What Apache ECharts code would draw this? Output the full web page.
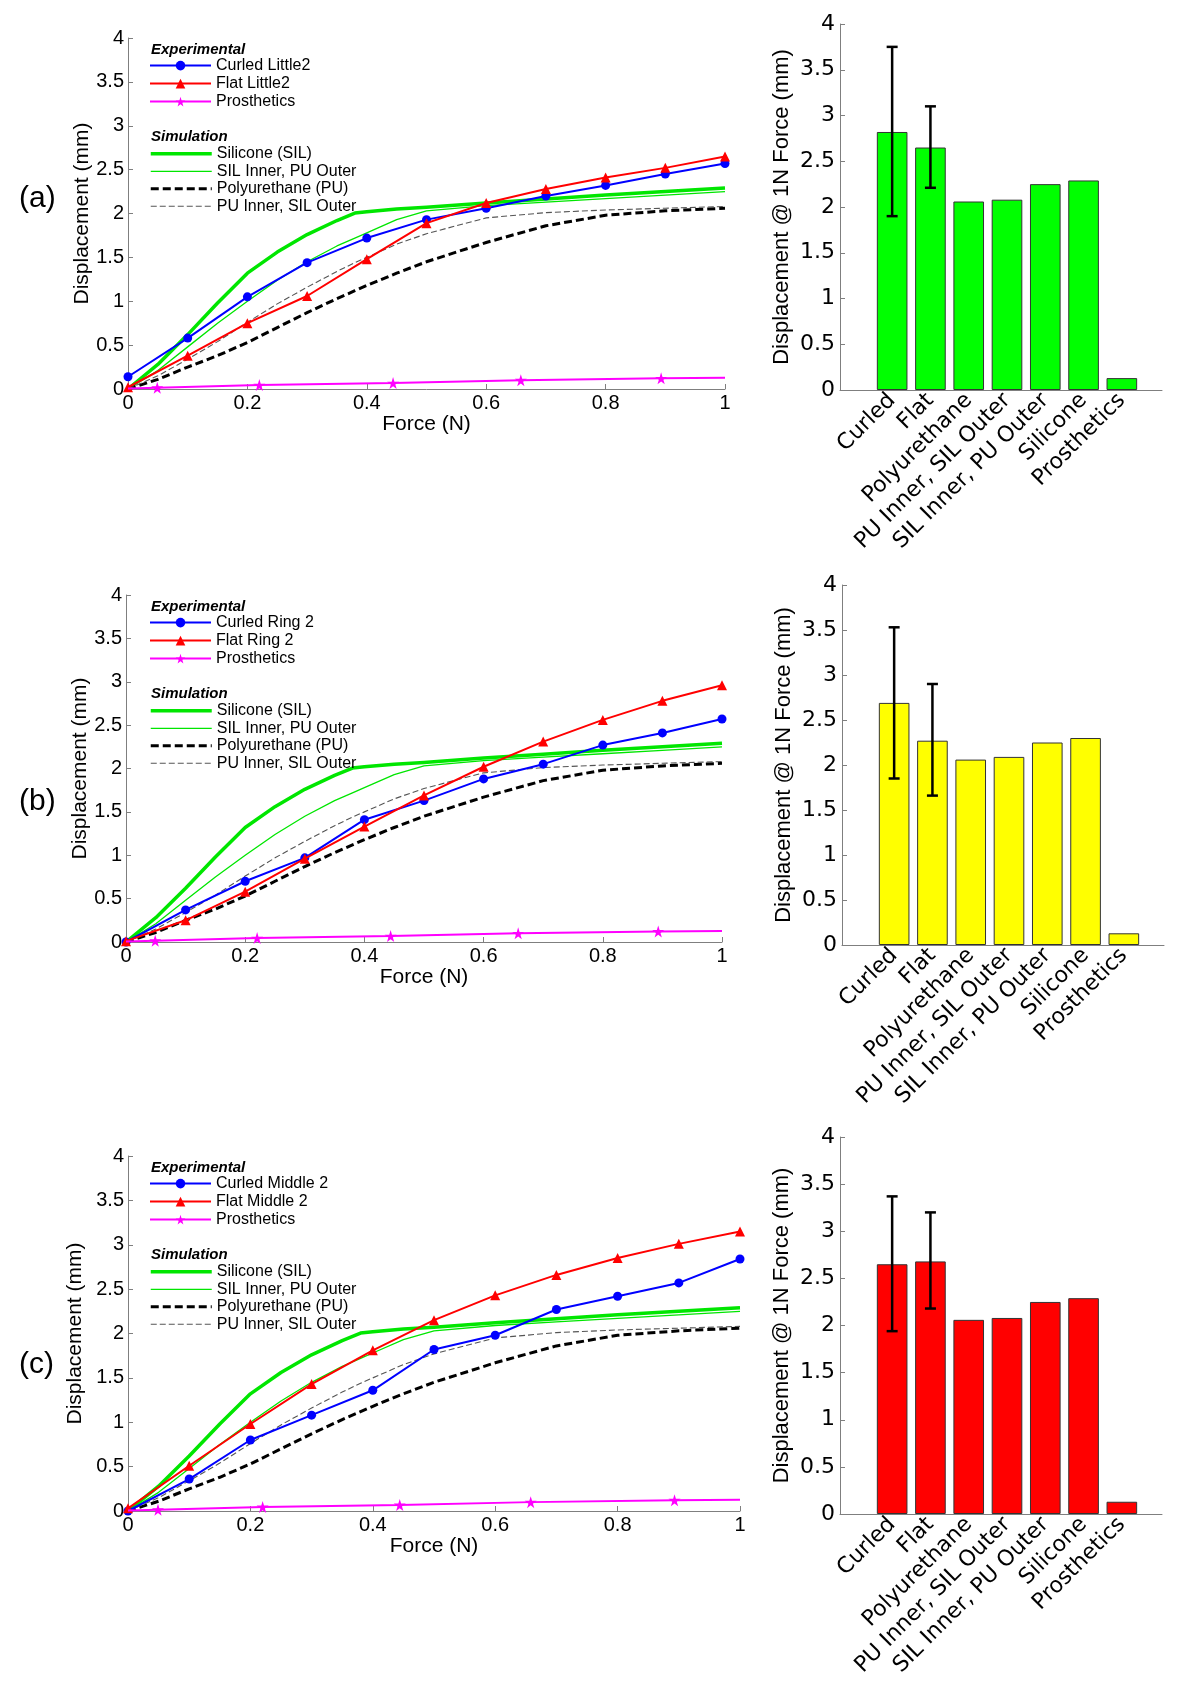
<!DOCTYPE html>
<html><head><meta charset="utf-8">
<script src="https://cdn.jsdelivr.net/npm/echarts@6/dist/echarts.min.js"></script>
<style>html,body{margin:0;padding:0;background:#fff}#c{width:1200px;height:1686px}</style>
</head><body><div id="c"></div>
<script>
// ---------- data ----------
const forceX = [0, 0.1, 0.2, 0.3, 0.4, 0.5, 0.6, 0.7, 0.8, 0.9, 1.0];
const curledLittle2 = [0.14, 0.58, 1.05, 1.44, 1.72, 1.93, 2.06, 2.20, 2.32, 2.45, 2.57];
const flatLittle2   = [0.02, 0.38, 0.75, 1.06, 1.48, 1.89, 2.12, 2.28, 2.41, 2.52, 2.65];
const curledRing2   = [0.00, 0.37, 0.70, 0.97, 1.41, 1.63, 1.88, 2.05, 2.27, 2.41, 2.57];
const flatRing2     = [0.01, 0.25, 0.58, 0.96, 1.33, 1.69, 2.02, 2.31, 2.56, 2.78, 2.96];
const curledMiddle2 = [0.00, 0.36, 0.80, 1.08, 1.36, 1.82, 1.98, 2.27, 2.42, 2.57, 2.84];
const flatMiddle2   = [0.03, 0.51, 0.98, 1.43, 1.81, 2.15, 2.43, 2.66, 2.85, 3.01, 3.15];

const prosX = [0, 0.049, 0.22, 0.444, 0.658, 0.893, 1.0];
const prosY = [0.005, 0.015, 0.045, 0.068, 0.10, 0.122, 0.128];
const prosMarked = [false, true, true, true, true, true, false];

const simX = [0, 0.05, 0.1, 0.15, 0.2, 0.25, 0.3, 0.35, 0.38, 0.4, 0.45, 0.5, 0.6, 0.7, 0.8, 0.9, 1.0];
const simSilicone        = [0, 0.28, 0.62, 0.98, 1.32, 1.56, 1.76, 1.92, 2.005, 2.02, 2.05, 2.07, 2.12, 2.165, 2.21, 2.25, 2.29];
const simSilInnerPuOuter = [0, 0.21, 0.48, 0.75, 1.00, 1.24, 1.45, 1.63, 1.72, 1.78, 1.93, 2.03, 2.09, 2.13, 2.17, 2.21, 2.25];
const simPolyurethane    = [0, 0.11, 0.25, 0.38, 0.53, 0.70, 0.87, 1.03, 1.12, 1.18, 1.32, 1.45, 1.67, 1.86, 1.98, 2.03, 2.06];
const simPuInnerSilOuter = [0, 0.15, 0.34, 0.54, 0.76, 0.97, 1.16, 1.34, 1.44, 1.50, 1.65, 1.77, 1.95, 2.01, 2.04, 2.06, 2.08];

const barCategories = ['Curled', 'Flat', 'Polyurethane', 'PU Inner, SIL Outer', 'SIL Inner, PU Outer', 'Silicone', 'Prosthetics'];
const barLittle = [2.82, 2.65, 2.06, 2.08, 2.25, 2.29, 0.13];
const barRing   = [2.69, 2.27, 2.06, 2.09, 2.25, 2.30, 0.13];
const barMiddle = [2.65, 2.68, 2.06, 2.08, 2.25, 2.29, 0.13];
// error bars: [category index, low, high]
const errLittle = [[0, 1.90, 3.75], [1, 2.21, 3.10]];
const errRing   = [[0, 1.85, 3.53], [1, 1.66, 2.90]];
const errMiddle = [[0, 1.94, 3.37], [1, 2.18, 3.20]];

const panelLabels = ['(a)', '(b)', '(c)'];
const simNames = ['Silicone (SIL)', 'SIL Inner, PU Outer', 'Polyurethane (PU)', 'PU Inner, SIL Outer'];

// ---------- layout / style ----------
const FONT = "'Liberation Sans', Arial, sans-serif";
const WFONT = "'DejaVu Sans', sans-serif";
const AX = '#7f7f7f';
const GREEN = '#00e600';
const STAR = 'path://M50,0 L61,35 L98,35 L68,57 L79,91 L50,70 L21,91 L32,57 L2,35 L39,35 Z';

const panels = [
  { labelY: 200, line: {left: 128, top: 38, width: 597, height: 351}, bar: {left: 840, top: 24, width: 322, height: 366},
    curled: curledLittle2, flat: flatLittle2, curledName: 'Curled Little2', flatName: 'Flat Little2',
    bars: barLittle, err: errLittle, barColor: '#00ff00' },
  { labelY: 803, line: {left: 126, top: 595, width: 596, height: 347}, bar: {left: 842, top: 585, width: 322, height: 360},
    curled: curledRing2, flat: flatRing2, curledName: 'Curled Ring 2', flatName: 'Flat Ring 2',
    bars: barRing, err: errRing, barColor: '#ffff00' },
  { labelY: 1366, line: {left: 128, top: 1156, width: 612, height: 355}, bar: {left: 840, top: 1137, width: 322, height: 377},
    curled: curledMiddle2, flat: flatMiddle2, curledName: 'Curled Middle 2', flatName: 'Flat Middle 2',
    bars: barMiddle, err: errMiddle, barColor: '#ff0000' }
];

const grid = [], xAxis = [], yAxis = [], series = [], legend = [], graphic = [];
const zip = (xs, ys) => xs.map((x, i) => [x, ys[i]]);

panels.forEach((p, k) => {
  const gL = 3 * k, gB = 3 * k + 1, gC = 3 * k + 2;
  grid.push({left: p.line.left, top: p.line.top, width: p.line.width, height: p.line.height});
  grid.push({left: p.bar.left, top: p.bar.top, width: p.bar.width, height: p.bar.height});
  grid.push({left: p.bar.left + 33, top: p.bar.top, width: 268, height: p.bar.height});

  // line chart axes
  xAxis.push({gridIndex: gL, type: 'value', min: 0, max: 1, interval: 0.2,
    axisLine: {show: true, onZero: false, lineStyle: {color: AX, width: 1}},
    axisTick: {show: true, inside: true, length: 5, lineStyle: {color: AX}},
    axisLabel: {color: '#000', fontSize: 20, fontFamily: FONT, margin: 4},
    splitLine: {show: false},
    name: 'Force (N)', nameLocation: 'middle', nameGap: 25,
    nameTextStyle: {color: '#000', fontSize: 21, fontFamily: FONT}});
  yAxis.push({gridIndex: gL, type: 'value', min: 0, max: 4, interval: 0.5,
    axisLine: {show: true, lineStyle: {color: AX, width: 1}},
    axisTick: {show: true, inside: true, length: 5, lineStyle: {color: AX}},
    axisLabel: {color: '#000', fontSize: 20, fontFamily: FONT, margin: 4},
    splitLine: {show: false},
    name: 'Displacement (mm)', nameLocation: 'middle', nameGap: 33,
    nameTextStyle: {color: '#000', fontSize: 21, fontFamily: FONT}});

  // bar chart frame axes
  xAxis.push({gridIndex: gB, type: 'value', min: 0, max: 1,
    axisLine: {show: true, lineStyle: {color: AX, width: 1}},
    axisTick: {show: false}, axisLabel: {show: false}, splitLine: {show: false}});
  yAxis.push({gridIndex: gB, type: 'value', min: 0, max: 4, interval: 0.5,
    axisLine: {show: true, lineStyle: {color: AX, width: 1}},
    axisTick: {show: true, inside: true, length: 5, lineStyle: {color: AX}},
    axisLabel: {color: '#000', fontSize: 22, fontFamily: WFONT, margin: 5},
    splitLine: {show: false},
    name: 'Displacement @ 1N Force (mm)', nameLocation: 'middle', nameGap: 47,
    nameTextStyle: {color: '#000', fontSize: 22, fontFamily: FONT}});
  // bar category axes
  xAxis.push({gridIndex: gC, type: 'category', data: barCategories,
    axisLine: {show: false}, axisTick: {show: false},
    axisLabel: {color: '#000', fontSize: 22, fontFamily: WFONT, rotate: 45, interval: 0, margin: 7}});
  yAxis.push({gridIndex: gC, type: 'value', min: 0, max: 4, show: false});

  // simulation curves
  const simStyles = [
    {color: GREEN, width: 3.5, type: 'solid'},
    {color: GREEN, width: 1.3, type: 'solid'},
    {color: '#000', width: 3, type: [8, 4]},
    {color: '#555', width: 1.1, type: [6, 3]}
  ];
  [simSilicone, simSilInnerPuOuter, simPolyurethane, simPuInnerSilOuter].forEach((ys, i) => {
    series.push({type: 'line', name: simNames[i], xAxisIndex: gL, yAxisIndex: gL,
      data: zip(simX, ys), symbol: 'none', smooth: false,
      color: simStyles[i].color,
      lineStyle: {color: simStyles[i].color, width: simStyles[i].width, type: simStyles[i].type, join: 'round'},
      animation: false, silent: true, z: 2});
  });
  // experimental
  series.push({type: 'line', name: p.curledName, xAxisIndex: gL, yAxisIndex: gL,
    data: zip(forceX, p.curled), symbol: 'circle', symbolSize: 9, color: '#0000ff',
    lineStyle: {color: '#0000ff', width: 2}, itemStyle: {color: '#0000ff'}, animation: false, z: 3});
  series.push({type: 'line', name: p.flatName, xAxisIndex: gL, yAxisIndex: gL,
    data: zip(forceX, p.flat), symbol: 'triangle', symbolSize: 10, color: '#ff0000',
    lineStyle: {color: '#ff0000', width: 2}, itemStyle: {color: '#ff0000'}, animation: false, z: 4});
  series.push({type: 'line', name: 'Prosthetics', xAxisIndex: gL, yAxisIndex: gL,
    data: prosX.map((x, i) => ({value: [x, prosY[i]], symbol: prosMarked[i] ? STAR : 'none'})),
    symbol: STAR, symbolSize: 12, showAllSymbol: true, color: '#ff00ff',
    lineStyle: {color: '#ff00ff', width: 2}, itemStyle: {color: '#ff00ff'}, animation: false, z: 5});

  // bars
  series.push({type: 'bar', name: 'bars' + k, xAxisIndex: gC, yAxisIndex: gC,
    data: p.bars, barWidth: '80%',
    itemStyle: {color: p.barColor, borderColor: '#333', borderWidth: 1}, animation: false, silent: true});
  series.push({type: 'custom', name: 'err' + k, xAxisIndex: gC, yAxisIndex: gC, data: p.err,
    animation: false, silent: true, z: 5,
    renderItem: (params, api) => {
      const x = api.value(0);
      const lo = api.coord([x, api.value(1)]);
      const hi = api.coord([x, api.value(2)]);
      const hw = 5.5, st = {stroke: '#000', lineWidth: 2.5};
      return {type: 'group', children: [
        {type: 'line', shape: {x1: lo[0], y1: lo[1], x2: hi[0], y2: hi[1]}, style: st},
        {type: 'line', shape: {x1: lo[0] - hw, y1: lo[1], x2: lo[0] + hw, y2: lo[1]}, style: st},
        {type: 'line', shape: {x1: hi[0] - hw, y1: hi[1], x2: hi[0] + hw, y2: hi[1]}, style: st}
      ]};
    }});

  // legends
  const top = p.line.top;
  const legBase = {orient: 'vertical', left: 149, padding: 0, itemWidth: 61, itemHeight: 12,
    selectedMode: false, textStyle: {color: '#000', fontSize: 16, fontFamily: FONT, lineHeight: 16}};
  legend.push(Object.assign({}, legBase, {top: top + 19.6, itemGap: 2,
    data: [p.curledName, p.flatName, 'Prosthetics'].map((n) => ({name: n, lineStyle: {width: 2}}))}));
  legend.push(Object.assign({}, legBase, {top: top + 107.8, itemGap: 1.5,
    data: simNames.map((n, i) => ({name: n, itemStyle: {opacity: 0},
      lineStyle: {width: simStyles[i].width, type: simStyles[i].type, color: simStyles[i].color}}))}));

  graphic.push({type: 'text', left: 151, top: top + 4.5,
    style: {text: 'Experimental', font: 'italic bold 15px ' + FONT, fill: '#000'}});
  graphic.push({type: 'text', left: 151, top: top + 91,
    style: {text: 'Simulation', font: 'italic bold 15px ' + FONT, fill: '#000'}});
  graphic.push({type: 'text', left: 19, top: p.labelY - 16,
    style: {text: panelLabels[k], font: '30px ' + FONT, fill: '#000'}});
});

const chart = echarts.init(document.getElementById('c'), null, {renderer: 'canvas'});
chart.setOption({backgroundColor: '#fff', animation: false, grid, xAxis, yAxis, series, legend, graphic});
</script></body></html>
